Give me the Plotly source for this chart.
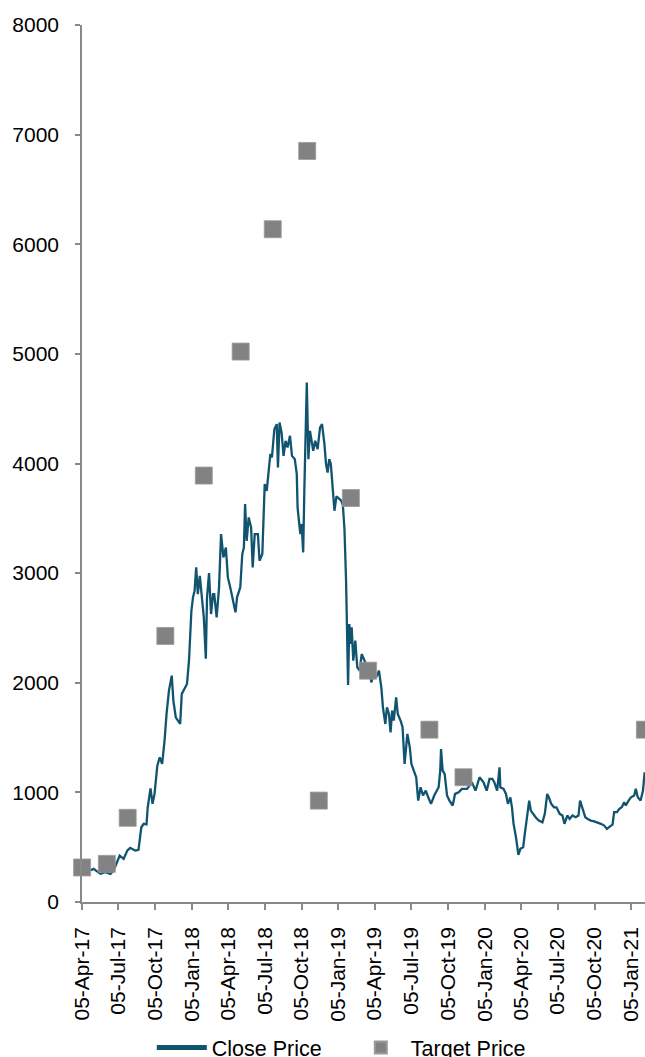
import plotly.graph_objects as go

close_dates = [
    "2017-04-20", "2017-04-24", "2017-05-04", "2017-05-12", "2017-05-21", "2017-06-02", "2017-06-15",
    "2017-06-23", "2017-07-02", "2017-07-08", "2017-07-18", "2017-07-27", "2017-08-03", "2017-08-16",
    "2017-08-24", "2017-08-31", "2017-09-06", "2017-09-13", "2017-09-16", "2017-09-23", "2017-09-28",
    "2017-10-03", "2017-10-10", "2017-10-16", "2017-10-22", "2017-10-28", "2017-11-02", "2017-11-08",
    "2017-11-15", "2017-11-19", "2017-11-25", "2017-12-01", "2017-12-06", "2017-12-10", "2017-12-18",
    "2017-12-23", "2017-12-28", "2017-12-31",
    "2018-01-03", "2018-01-07", "2018-01-11", "2018-01-15", "2018-01-19", "2018-01-24", "2018-01-30",
    "2018-02-03", "2018-02-08", "2018-02-11", "2018-02-16", "2018-02-21", "2018-02-26", "2018-03-01",
    "2018-03-07", "2018-03-13", "2018-03-18", "2018-03-24", "2018-03-30", "2018-04-04", "2018-04-10",
    "2018-04-17", "2018-04-23", "2018-04-27", "2018-05-05", "2018-05-10", "2018-05-14", "2018-05-17",
    "2018-05-21", "2018-05-26", "2018-06-01", "2018-06-05", "2018-06-10", "2018-06-18", "2018-06-22",
    "2018-06-29", "2018-07-02", "2018-07-05", "2018-07-10", "2018-07-14", "2018-07-19", "2018-07-23",
    "2018-07-29", "2018-08-04", "2018-08-07", "2018-08-11", "2018-08-16", "2018-08-21", "2018-08-26",
    "2018-08-31", "2018-09-06", "2018-09-11", "2018-09-18", "2018-09-23", "2018-09-25", "2018-09-30",
    "2018-10-02", "2018-10-05", "2018-10-09", "2018-10-12", "2018-10-15", "2018-10-18", "2018-10-22",
    "2018-10-26", "2018-10-30", "2018-11-03", "2018-11-08", "2018-11-14", "2018-11-20", "2018-11-25",
    "2018-12-01", "2018-12-05", "2018-12-09", "2018-12-13", "2018-12-17", "2018-12-21", "2018-12-26",
    "2018-12-31",
    "2019-01-07", "2019-01-12", "2019-01-16", "2019-01-20", "2019-01-24", "2019-01-27", "2019-01-29",
    "2019-02-01", "2019-02-05", "2019-02-07", "2019-02-11", "2019-02-16", "2019-02-21", "2019-02-27",
    "2019-03-04", "2019-03-13", "2019-03-23", "2019-03-28", "2019-04-03", "2019-04-09", "2019-04-16",
    "2019-04-22", "2019-04-26", "2019-05-02", "2019-05-06", "2019-05-11", "2019-05-15", "2019-05-19",
    "2019-05-23", "2019-05-29", "2019-06-02", "2019-06-09", "2019-06-14", "2019-06-19", "2019-06-26",
    "2019-07-02", "2019-07-06", "2019-07-12", "2019-07-18", "2019-07-23", "2019-07-29", "2019-08-04",
    "2019-08-11", "2019-08-17", "2019-08-24", "2019-09-01", "2019-09-07", "2019-09-12", "2019-09-16",
    "2019-09-18", "2019-09-22", "2019-09-27", "2019-10-03", "2019-10-09", "2019-10-17", "2019-10-23",
    "2019-11-01", "2019-11-09", "2019-11-22", "2019-12-04", "2019-12-13", "2019-12-23",
    "2020-01-02", "2020-01-10", "2020-01-17", "2020-01-24", "2020-01-29", "2020-02-05", "2020-02-11",
    "2020-02-13", "2020-02-21", "2020-02-27", "2020-03-03", "2020-03-09", "2020-03-13", "2020-03-17",
    "2020-03-23", "2020-03-29", "2020-04-03", "2020-04-10", "2020-04-14", "2020-04-18", "2020-04-25",
    "2020-04-29", "2020-05-04", "2020-05-11", "2020-05-19", "2020-05-28", "2020-06-03", "2020-06-09",
    "2020-06-13", "2020-06-19", "2020-06-26", "2020-07-02", "2020-07-10", "2020-07-17", "2020-07-22",
    "2020-07-29", "2020-08-04", "2020-08-11", "2020-08-19", "2020-08-26", "2020-08-30", "2020-09-05",
    "2020-09-12", "2020-09-18", "2020-09-26", "2020-10-04", "2020-10-13", "2020-10-21", "2020-10-29",
    "2020-11-05", "2020-11-12", "2020-11-19", "2020-11-23", "2020-11-30", "2020-12-06", "2020-12-12",
    "2020-12-18", "2020-12-22", "2020-12-29",
    "2021-01-04", "2021-01-12", "2021-01-16", "2021-01-21", "2021-01-28", "2021-02-03", "2021-02-07",
]

close_values = [
    290, 287, 302, 281, 257, 272, 257,
    287, 363, 424, 394, 469, 494, 469,
    476, 682, 713, 708, 864, 1037, 895,
    986, 1244, 1320, 1260, 1472, 1716, 1928,
    2065, 1837, 1685, 1655, 1624, 1898, 1958,
    1989, 2201, 2384,
    2657, 2778, 2840, 3052, 2809, 2976, 2778,
    2596, 2220, 2778, 3000, 2627, 2809, 2809,
    2596, 2870, 3356, 3143, 3234, 2961, 2870,
    2748, 2642, 2779, 2870, 3174, 3234, 3630,
    3295, 3508, 3417, 3052, 3356, 3356, 3113,
    3174, 3508, 3812, 3751, 3903, 4086, 4055,
    4313, 4359, 3963, 4374, 4283, 4070, 4207,
    4146, 4253, 4070, 4040, 3903, 3599, 3417,
    3356, 3448, 3189, 3781, 4328, 4738, 4040,
    4298, 4207, 4116, 4207, 4131, 4328, 4359,
    4177, 3995, 3918, 4040, 3995, 3781, 3569,
    3700,
    3680, 3660, 3620, 3400, 2931, 2505, 1980,
    2536, 2354, 2505, 2201, 2384, 2140, 2110,
    2262, 2186, 2140, 2004, 2080, 2049, 2110,
    1958, 1776, 1624, 1776, 1716, 1548, 1746,
    1655, 1867, 1716, 1655, 1594, 1260, 1533,
    1411, 1260, 1199, 1138, 925, 1047, 971,
    1016, 955, 895, 971, 1016, 1047, 1199,
    1396, 1199, 1169, 971, 925, 880, 986,
    1001, 1032, 1032, 1092, 1016, 1138,
    1092, 1016, 1123, 1123, 1093, 1016, 1229,
    1047, 1032, 986, 895, 955, 864, 713,
    591, 430, 485, 500, 622, 743, 925,
    834, 804, 773, 743, 727, 804, 986,
    955, 895, 864, 864, 804, 789, 713,
    789, 758, 789, 773, 789, 925, 850,
    773, 758, 743, 736, 727, 713, 697,
    667, 688, 706, 819, 819, 850, 864,
    910, 880, 925,
    955, 971, 1032, 955, 925, 1016, 1183,
]

target_dates = [
    "2017-04-05 06:00", "2017-06-06", "2017-07-28", "2017-10-30", "2018-02-03", "2018-05-06",
    "2018-07-25", "2018-10-19", "2018-11-17", "2019-02-05", "2019-03-20", "2019-08-20", "2019-11-13",
    "2021-02-07 18:00",
]
target_values = [315, 348, 768, 2427, 3890, 5021, 6137, 6851, 925, 3685, 2110, 1572, 1138, 1572]

tick_dates = [
    "2017-04-05", "2017-07-05", "2017-10-05", "2018-01-05", "2018-04-05", "2018-07-05", "2018-10-05",
    "2019-01-05", "2019-04-05", "2019-07-05", "2019-10-05", "2020-01-05", "2020-04-05", "2020-07-05",
    "2020-10-05", "2021-01-05",
]
tick_labels = [
    "05-Apr-17", "05-Jul-17", "05-Oct-17", "05-Jan-18", "05-Apr-18", "05-Jul-18", "05-Oct-18",
    "05-Jan-19", "05-Apr-19", "05-Jul-19", "05-Oct-19", "05-Jan-20", "05-Apr-20", "05-Jul-20",
    "05-Oct-20", "05-Jan-21",
]

LINE_COLOR = "#10546F"
MARK_COLOR = "#828282"
AXIS_COLOR = "#898989"
FAMILY = "Liberation Sans, Arial, sans-serif"
TICK_FONT = dict(family=FAMILY, size=21, color="#000000")
LEGEND_FONT = dict(family=FAMILY, size=21.5, color="#000000")

fig = go.Figure()
fig.add_trace(go.Scatter(
    x=close_dates, y=close_values, mode="lines", name="Close Price",
    line=dict(color=LINE_COLOR, width=2.3),
))
fig.add_trace(go.Scatter(
    x=target_dates, y=target_values, mode="markers", name="Target Price",
    marker=dict(symbol="square", size=17, color=MARK_COLOR,
                line=dict(color="#9a9a9a", width=0.8)),
    cliponaxis=False,
))

fig.update_layout(
    template="none",
    width=645, height=1057,
    margin=dict(l=82, r=0, t=25, b=155, autoexpand=False),
    paper_bgcolor="white", plot_bgcolor="white",
    font=TICK_FONT,
    showlegend=True,
    legend=dict(
        orientation="h", x=0.124, xanchor="left", y=-0.166, yanchor="middle",
        font=LEGEND_FONT, itemsizing="constant", entrywidth=134, entrywidthmode="pixels",
        itemwidth=50, bgcolor="rgba(0,0,0,0)",
    ),
    xaxis=dict(
        type="date", range=["2017-04-05", "2021-02-08"],
        tickmode="array", tickvals=tick_dates, ticktext=tick_labels, tickangle=-90,
        ticks="outside", ticklen=6, tickcolor=AXIS_COLOR, tickwidth=1.5,
        showline=True, linecolor=AXIS_COLOR, linewidth=1.5,
        showgrid=False, zeroline=False, automargin=False,
        tickfont=TICK_FONT, ticklabelstandoff=9,
    ),
    yaxis=dict(
        range=[0, 8000], tickmode="linear", tick0=0, dtick=1000,
        ticks="outside", ticklen=5, tickcolor=AXIS_COLOR, tickwidth=1.5,
        showline=True, linecolor=AXIS_COLOR, linewidth=1.5,
        showgrid=False, zeroline=False, automargin=False,
        tickfont=TICK_FONT, ticklabelstandoff=12,
    ),
)

fig.write_html("out.html")
